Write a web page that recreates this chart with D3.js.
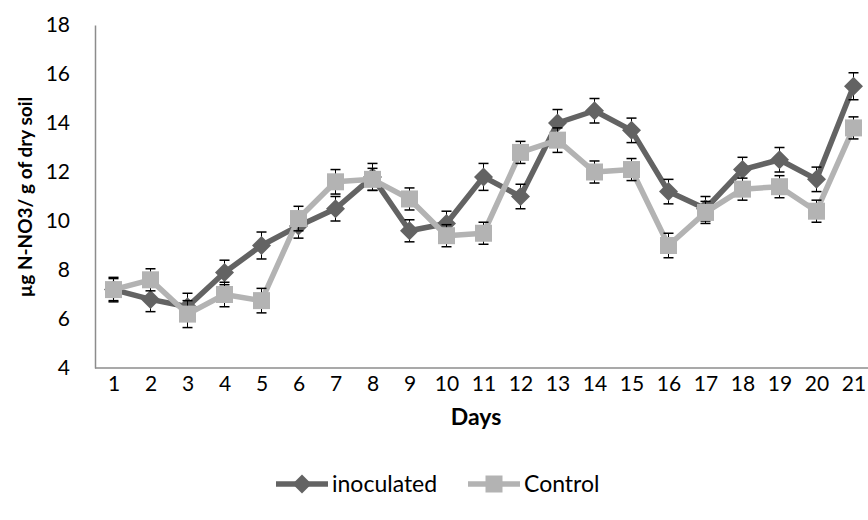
<!DOCTYPE html>
<html>
<head>
<meta charset="utf-8">
<script src="https://cdn.jsdelivr.net/npm/d3@7"></script>
<style>
  body { margin: 0; background: #fff; }
  text { font-family: Lato, "Open Sans", sans-serif; fill: #000; }
</style>
</head>
<body>
<svg id="fig" width="868" height="520"></svg>
<script>
const days = ["1","2","3","4","5","6","7","8","9","10","11","12","13","14","15","16","17","18","19","20","21"];
const inoculated = [7.2, 6.8, 6.5, 7.9, 9.0, 9.8, 10.5, 11.8, 9.6, 9.9, 11.8, 11.0, 14.0, 14.5, 13.7, 11.2, 10.5, 12.1, 12.5, 11.7, 15.5];
const inoculatedErr = [0.5, 0.5, 0.55, 0.5, 0.55, 0.5, 0.5, 0.55, 0.45, 0.5, 0.55, 0.5, 0.55, 0.5, 0.5, 0.5, 0.5, 0.5, 0.5, 0.5, 0.55];
const control = [7.2, 7.6, 6.2, 7.0, 6.75, 10.1, 11.6, 11.7, 10.9, 9.4, 9.5, 12.8, 13.3, 12.0, 12.1, 9.0, 10.35, 11.3, 11.4, 10.4, 13.8];
const controlErr = [0.45, 0.45, 0.55, 0.5, 0.5, 0.5, 0.5, 0.45, 0.45, 0.45, 0.45, 0.45, 0.5, 0.45, 0.45, 0.5, 0.45, 0.45, 0.45, 0.45, 0.45];
const yTicks = [4, 6, 8, 10, 12, 14, 16, 18];

const svg = d3.select('#fig');

const x = d3.scalePoint()
    .domain(days)
    .range([113.5, 853.5]);

const y = d3.scaleLinear()
    .domain([4, 18])
    .range([368, 25]);

// axes
const yAxis = svg.append('g')
    .attr('transform', 'translate(95,0)')
    .call(d3.axisLeft(y).tickValues(yTicks).tickSize(0).tickPadding(25));
yAxis.select('.domain').attr('stroke', '#8c8c8c').attr('stroke-width', 1.5);
yAxis.selectAll('text').style('font-size', '21px').attr('font-family', null);

const xAxis = svg.append('g')
    .attr('transform', 'translate(0,368)')
    .call(d3.axisBottom(x).tickSize(0).tickPadding(8));
xAxis.select('.domain').attr('d', 'M95,0H868').attr('stroke', '#8c8c8c').attr('stroke-width', 1.5);
xAxis.selectAll('text').style('font-size', '21px').attr('font-family', null);

// titles
svg.append('text')
    .attr('x', 476).attr('y', 425)
    .attr('text-anchor', 'middle')
    .style('font-size', '23px').style('font-weight', 'bold')
    .text('Days');

svg.append('text')
    .attr('transform', 'translate(32,197) rotate(-90)')
    .attr('text-anchor', 'middle')
    .style('font-size', '19px').style('font-weight', 'bold')
    .text('µg N-NO3/ g of dry soil');

function diamond(r) { return `M0,${-r}L${r},0L0,${r}L${-r},0Z`; }
function square(r) { return `M${-r},${-r}H${r}V${r}H${-r}Z`; }

const series = [
    { name: 'inoculated', values: inoculated, err: inoculatedErr, color: '#636363', shape: diamond(9.5) },
    { name: 'Control', values: control, err: controlErr, color: '#b3b3b3', shape: square(8.5) }
];

const line = d3.line()
    .x((d, i) => x(days[i]))
    .y(d => y(d));

series.forEach(s => {
    const g = svg.append('g');
    g.append('path')
        .datum(s.values)
        .attr('d', line)
        .attr('fill', 'none')
        .attr('stroke', s.color)
        .attr('stroke-width', 5.5)
        .attr('stroke-linejoin', 'round');

    const eb = g.selectAll('.eb')
        .data(s.values)
        .enter()
        .append('g')
        .attr('class', 'eb');
    eb.append('line')
        .attr('x1', (d, i) => x(days[i])).attr('x2', (d, i) => x(days[i]))
        .attr('y1', (d, i) => y(d + s.err[i])).attr('y2', (d, i) => y(d - s.err[i]))
        .attr('stroke', '#000').attr('stroke-width', 1);
    [1, -1].forEach(sign => {
        eb.append('line')
            .attr('x1', (d, i) => x(days[i]) - 5).attr('x2', (d, i) => x(days[i]) + 5)
            .attr('y1', (d, i) => y(d + sign * s.err[i])).attr('y2', (d, i) => y(d + sign * s.err[i]))
            .attr('stroke', '#000').attr('stroke-width', 1.5);
    });

    g.selectAll('.mk')
        .data(s.values)
        .enter()
        .append('path')
        .attr('class', 'mk')
        .attr('transform', (d, i) => `translate(${x(days[i])},${y(d)})`)
        .attr('d', s.shape)
        .attr('fill', s.color);
});

// legend
const legendPos = [276, 468];
const legend = svg.append('g').attr('transform', 'translate(0,484)');
series.forEach((s, i) => {
    const lx = legendPos[i];
    legend.append('line')
        .attr('x1', lx).attr('x2', lx + 52)
        .attr('stroke', s.color).attr('stroke-width', 5.5);
    legend.append('path')
        .attr('transform', `translate(${lx + 26},0)`)
        .attr('d', s.shape)
        .attr('fill', s.color);
    legend.append('text')
        .attr('x', lx + 56).attr('y', 8)
        .style('font-size', '23px')
        .text(s.name);
});
</script>
</body>
</html>
